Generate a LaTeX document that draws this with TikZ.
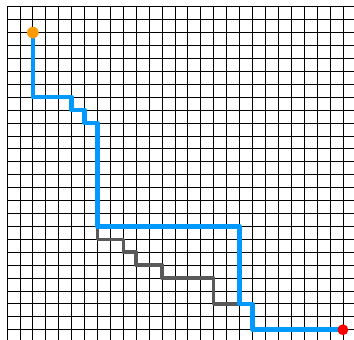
\documentclass[tikz,border=0pt]{standalone}
\definecolor{pathblue}{RGB}{0,153,255}
\definecolor{startorange}{RGB}{255,153,0}
\begin{document}
\begin{tikzpicture}[x=0.4541cm, y=-0.4541cm, line join=round]
  \useasboundingbox (-0.542,-0.52) rectangle (26.857,25.77);
  % Grid
  \begin{scope}
    \clip (-0.542,-0.52) rectangle (26.857,25.77);
    \foreach \i in {0,...,27} \draw[line width=0.8pt] (\i,0) -- (\i,26);
    \foreach \j in {0,...,26} \draw[line width=0.8pt] (0,\j) -- (27,\j);
  \end{scope}
  % Explored detour
  \draw[line width=3.5pt, black!65] (7,17) -- (7,18) -- (9,18) -- (9,19) -- (10,19) -- (10,20)
    -- (12,20) -- (12,21) -- (16,21) -- (16,23) -- (18,23);
  % Found path
  \draw[line width=4.5pt, pathblue] (2,2) -- (2,7) -- (5,7) -- (5,8) -- (6,8) -- (6,9) -- (7,9)
    -- (7,17) -- (18,17) -- (18,23) -- (19,23) -- (19,25) -- (26,25);
  \coordinate (start) at (2,2);
  \coordinate (goal) at (26,25);
  \fill[startorange] (start) circle (0.45);
  \fill[red] (goal) circle (0.42);
\end{tikzpicture}
\end{document}
